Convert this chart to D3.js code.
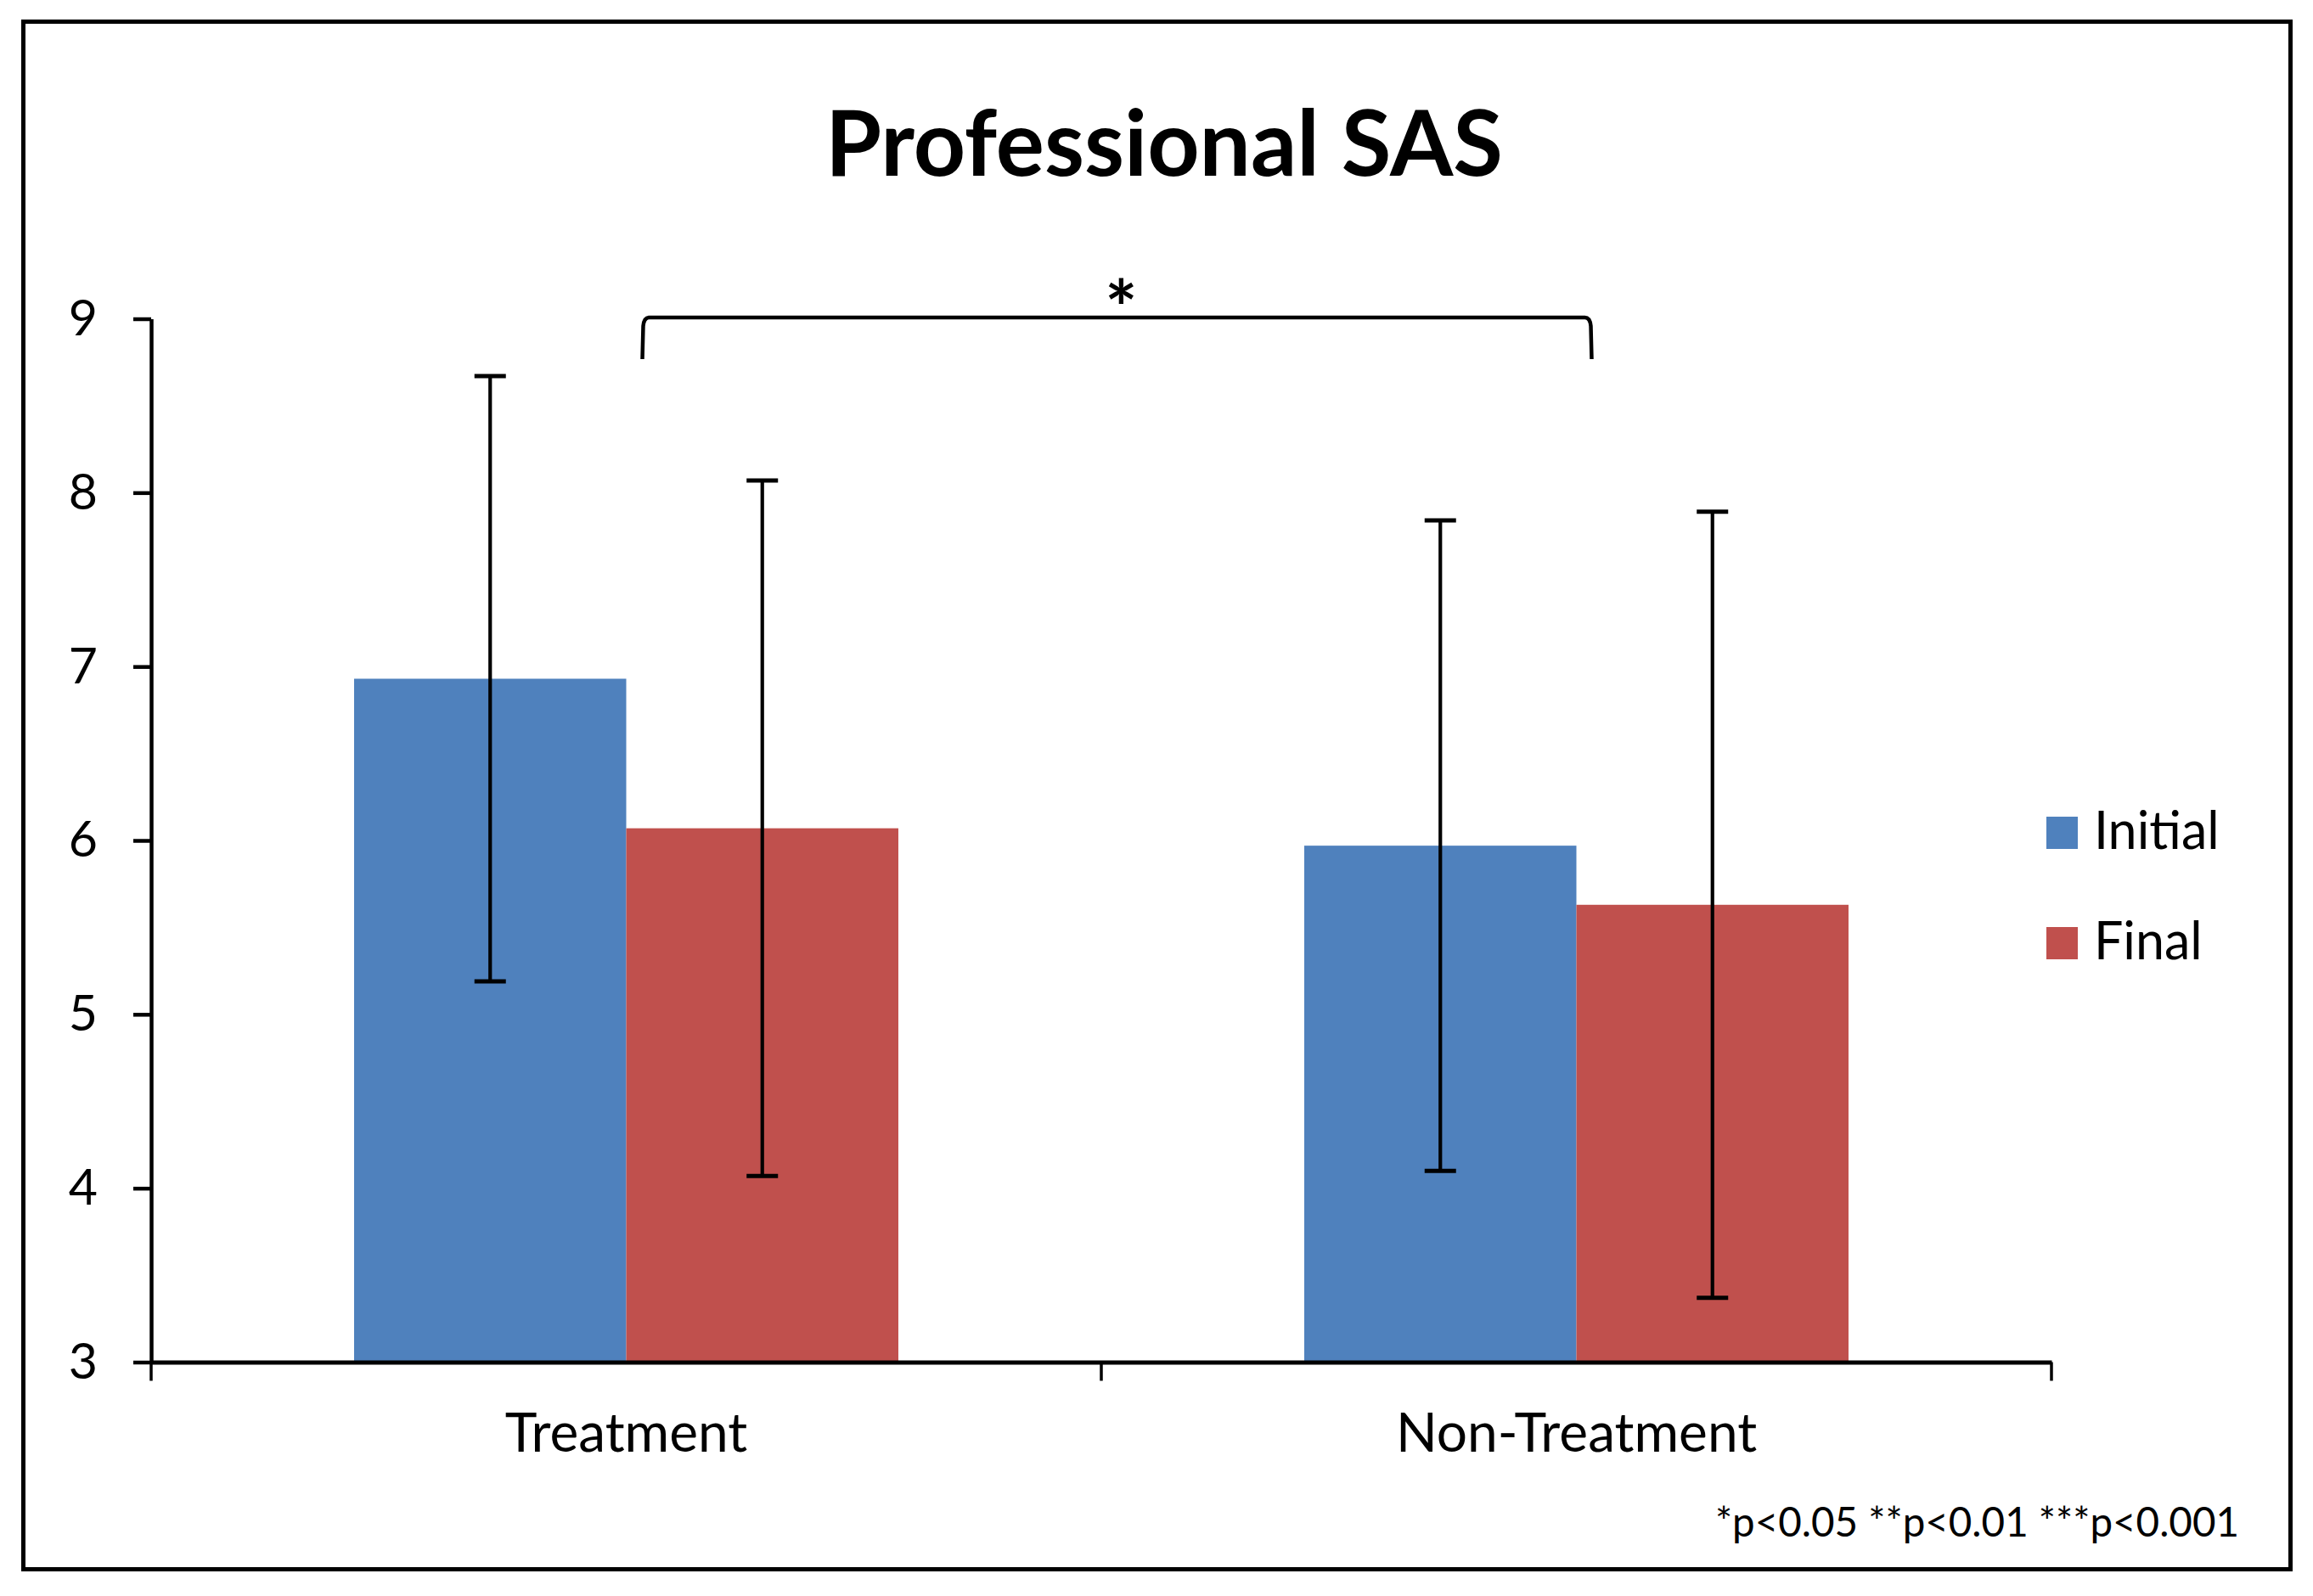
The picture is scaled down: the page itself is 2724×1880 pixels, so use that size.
<!DOCTYPE html>
<html>
<head>
<meta charset="utf-8">
<script src="https://cdn.jsdelivr.net/npm/d3@7"></script>
<style>
  html, body { margin: 0; padding: 0; background: #fff; }
  svg { display: block; }
  text { font-family: "Lato", "Open Sans", "DejaVu Sans", sans-serif; fill: #000; }
</style>
</head>
<body>
<svg id="chart" width="2724" height="1880"></svg>
<script>
// ---- data ----
const title = "Professional SAS";
const categories = ["Treatment", "Non-Treatment"];
const series = ["Initial", "Final"];
const initialValues = [6.93, 5.97];
const finalValues = [6.07, 5.63];
const initialErrors = [1.74, 1.87];
const finalErrors = [2.00, 2.26];
const yTicks = [3, 4, 5, 6, 7, 8, 9];
const colors = ["#4F81BD", "#C0504D"];
const significanceMark = "*";
const footnote = "*p<0.05 **p<0.01 ***p<0.001";

const valuesBySeries = [initialValues, finalValues];
const errorsBySeries = [initialErrors, finalErrors];

const svg = d3.select("#chart");

// outer border
svg.append("rect")
  .attr("x", 27.5).attr("y", 25.5)
  .attr("width", 2670).attr("height", 1823)
  .attr("fill", "none").attr("stroke", "#000").attr("stroke-width", 5);

// scales
const plotLeft = 178, plotRight = 2416, plotTop = 375.5, plotBottom = 1604.5;
const y = d3.scaleLinear().domain([3, 9]).range([plotBottom, plotTop]);
const x0 = d3.scaleBand().domain(categories).range([plotLeft, plotRight]).padding(0);
const bw = x0.bandwidth();
const x1 = d3.scaleBand().domain(series).range([bw * 0.2136, bw * 0.7864]).padding(0);

// title
svg.append("text")
  .attr("x", 1371).attr("y", 207)
  .attr("text-anchor", "middle")
  .attr("font-size", 107).attr("font-weight", "bold")
  .text(title);

// bars
const rows = [];
categories.forEach((c, ci) => {
  series.forEach((s, si) => {
    rows.push({ cat: c, ser: s, si, v: valuesBySeries[si][ci], e: errorsBySeries[si][ci] });
  });
});

svg.append("g").selectAll("rect")
  .data(rows).join("rect")
  .attr("x", d => x0(d.cat) + x1(d.ser))
  .attr("y", d => y(d.v))
  .attr("width", x1.bandwidth())
  .attr("height", d => y(3) - y(d.v))
  .attr("fill", d => colors[d.si]);

// error bars
const eg = svg.append("g").attr("stroke", "#000").attr("fill", "none");
rows.forEach(d => {
  const cx = x0(d.cat) + x1(d.ser) + x1.bandwidth() / 2;
  eg.append("line").attr("x1", cx).attr("x2", cx)
    .attr("y1", y(d.v + d.e)).attr("y2", y(d.v - d.e)).attr("stroke-width", 4.2);
  [d.v + d.e, d.v - d.e].forEach(val => {
    eg.append("line").attr("x1", cx - 18.5).attr("x2", cx + 18.5)
      .attr("y1", y(val)).attr("y2", y(val)).attr("stroke-width", 5);
  });
});

// y axis
const yAxis = svg.append("g")
  .attr("transform", `translate(${plotLeft},0)`)
  .call(d3.axisLeft(y).tickValues(yTicks).tickFormat(d3.format("d")).tickSize(21).tickSizeOuter(0).tickPadding(42));
yAxis.select(".domain").attr("stroke", "#000").attr("stroke-width", 4.5);
yAxis.selectAll(".tick line").attr("stroke", "#000").attr("stroke-width", 4.5);
yAxis.selectAll(".tick text")
  .attr("font-size", 59).attr("font-family", "Lato, 'Open Sans', sans-serif").attr("fill", "#000");

// x axis
const xAxis = svg.append("g")
  .attr("transform", `translate(0,${plotBottom})`)
  .call(d3.axisBottom(x0).tickSize(0).tickSizeOuter(0).tickFormat(""));
xAxis.select(".domain").attr("stroke", "#000").attr("stroke-width", 5);
const xBoundaries = categories.map(c => x0(c)).concat([plotRight]);
xAxis.selectAll(".bound").data(xBoundaries).join("line")
  .attr("class", "bound")
  .attr("x1", d => d).attr("x2", d => d)
  .attr("y1", 0).attr("y2", 22)
  .attr("stroke", "#000").attr("stroke-width", 3.5);

svg.append("g").selectAll("text")
  .data(categories).join("text")
  .attr("x", d => x0(d) + bw / 2)
  .attr("y", 1710)
  .attr("text-anchor", "middle")
  .attr("font-size", 64)
  .text(d => d);

// significance bracket
const bx1 = x0(categories[0]) + bw / 2 + 19;
const bx2 = x0(categories[1]) + bw / 2 + 18;
const bTop = 374, bBottom = 423;
svg.append("path")
  .attr("d", `M${bx1},${bBottom} L${bx1 + 1},${bTop + 10} Q${bx1 + 2},${bTop} ${bx1 + 8},${bTop} L${bx2 - 8},${bTop} Q${bx2 - 2},${bTop} ${bx2 - 1},${bTop + 10} L${bx2},${bBottom}`)
  .attr("fill", "none").attr("stroke", "#000").attr("stroke-width", 4.5);
svg.append("text")
  .attr("x", (bx1 + bx2) / 2 + 5).attr("y", 396)
  .attr("text-anchor", "middle")
  .attr("font-size", 90).attr("font-weight", "bold")
  .text(significanceMark);

// legend
const legend = svg.append("g");
series.forEach((s, i) => {
  const ly = 962 + i * 130;
  legend.append("rect").attr("x", 2410).attr("y", ly).attr("width", 37).attr("height", 38).attr("fill", colors[i]);
  legend.append("text").attr("x", 2466).attr("y", ly + 38).attr("font-size", 61).text(s);
});

// footnote
svg.append("text")
  .attr("x", 2637).attr("y", 1810)
  .attr("text-anchor", "end")
  .attr("font-size", 47.5)
  .text(footnote);
</script>
</body>
</html>
